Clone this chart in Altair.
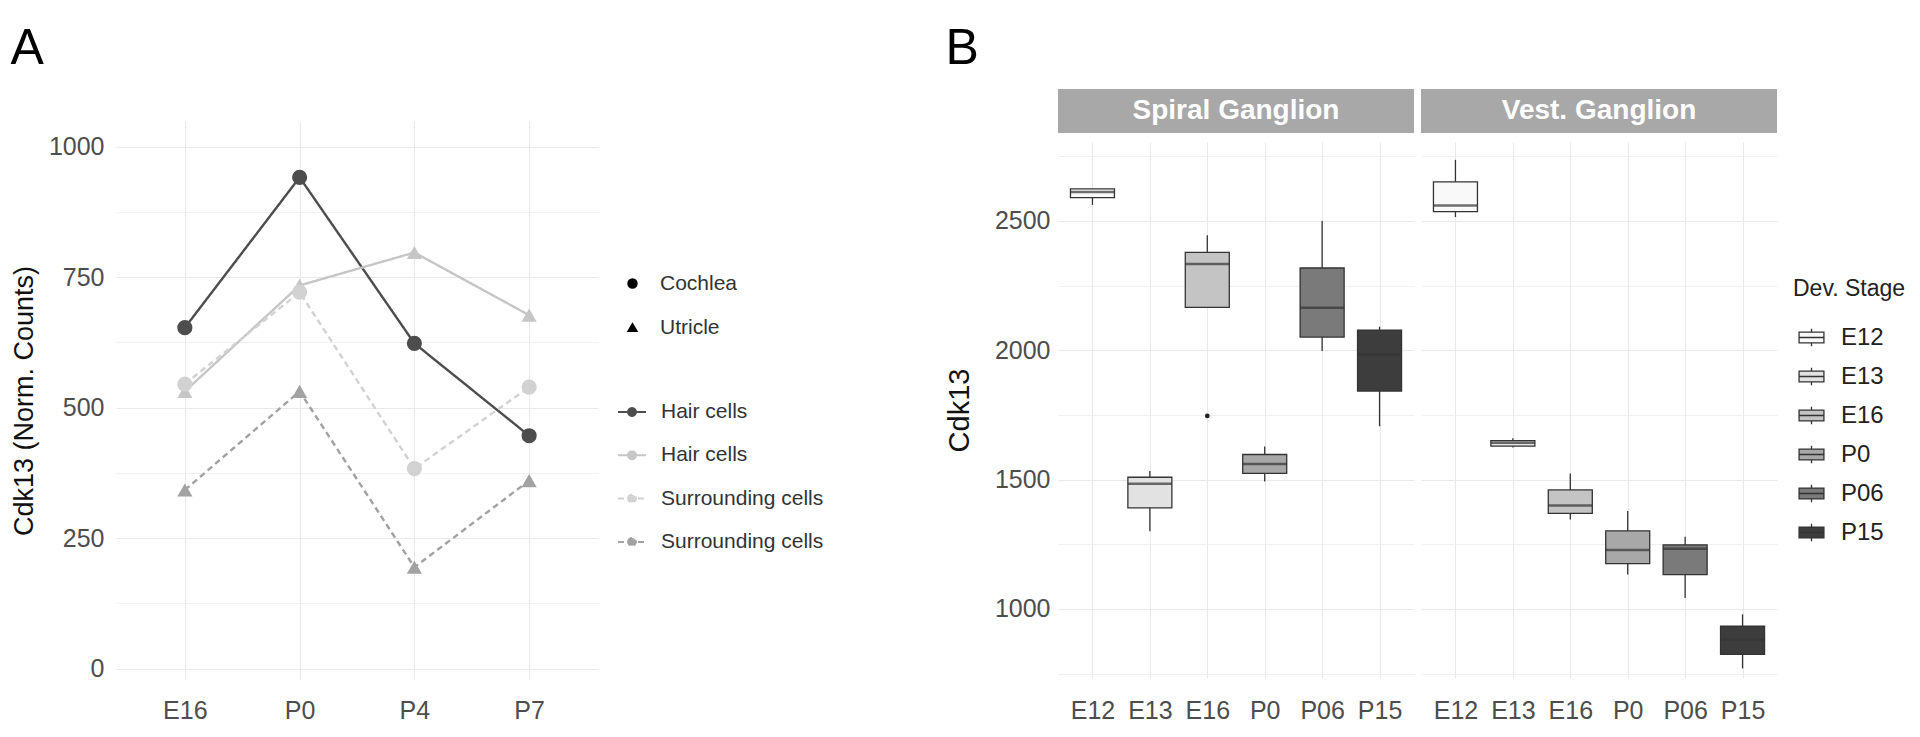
import altair as alt
import pandas as pd

# ---------------- Panel A data ----------------
stages_a = ["E16", "P0", "P4", "P7"]
series_a = ["Cochlea Hair cells", "Utricle Hair cells",
            "Cochlea Surrounding cells", "Utricle Surrounding cells"]
organ_of_series = ["Cochlea", "Utricle", "Cochlea", "Utricle"]
cochlea_hair = [653, 941, 623, 446]
utricle_hair = [531, 734, 797, 677]
cochlea_surr = [545, 721, 383, 539]
utricle_surr = [342, 531, 194, 360]
colors_a = ["#4d4d4d", "#c6c6c6", "#d2d2d2", "#a2a2a2"]
dashes_a = [[1, 0], [1, 0], [6, 4], [6, 4]]

rows = []
for s, org, vals in zip(series_a, organ_of_series,
                        [cochlea_hair, utricle_hair, cochlea_surr, utricle_surr]):
    for st, v in zip(stages_a, vals):
        rows.append({"series": s, "organ": org, "stage": st, "value": v})
df_a = pd.DataFrame(rows)

# ---------------- Panel B data ----------------
stages_b = ["E12", "E13", "E16", "P0", "P06", "P15"]
fills_b = ["#f9f9f9", "#e2e2e2", "#c4c4c4", "#a8a8a8", "#7a7a7a", "#3d3d3d"]
panels_b = ["Spiral Ganglion", "Vest. Ganglion"]
# whisker low, q1, median, q3, whisker high
sg_low = [2562, 1300, 2166, 1493, 1997, 1706]
sg_q1 = [2590, 1391, 2166, 1524, 2051, 1842]
sg_med = [2612, 1484, 2333, 1560, 2164, 1984]
sg_q3 = [2624, 1509, 2378, 1597, 2318, 2078]
sg_high = [2624, 1533, 2445, 1628, 2500, 2091]
vg_low = [2515, 1624, 1346, 1133, 1042, 770]
vg_q1 = [2536, 1629, 1369, 1175, 1133, 824]
vg_med = [2560, 1642, 1400, 1228, 1233, 882]
vg_q3 = [2651, 1651, 1460, 1302, 1248, 933]
vg_high = [2736, 1660, 1524, 1379, 1279, 979]
outlier_panel = ["Spiral Ganglion"]
outlier_stage = ["E16"]
outlier_value = [1746]

rows_b = []
for p, lo, q1, md, q3, hi in [
    (panels_b[0], sg_low, sg_q1, sg_med, sg_q3, sg_high),
    (panels_b[1], vg_low, vg_q1, vg_med, vg_q3, vg_high),
]:
    for i, st in enumerate(stages_b):
        rows_b.append({"panel": p, "stage": st, "low": lo[i], "q1": q1[i],
                       "med": md[i], "q3": q3[i], "high": hi[i]})
df_b = pd.DataFrame(rows_b)
df_out = pd.DataFrame({"panel": outlier_panel, "stage": outlier_stage,
                       "value": outlier_value})

FONT = "Liberation Sans"
GRID = "#e9e9e9"
TICK = "#4d4d4d"

# ---------------- Panel A chart ----------------
x_a = alt.X("stage:N", sort=stages_a,
            scale=alt.Scale(type="point", padding=0.6),
            axis=alt.Axis(title=None, labelFontSize=25, labelColor=TICK,
                          labelPadding=18, ticks=False, domain=False,
                          grid=True, gridColor=GRID, gridWidth=1.1,
                          labelAngle=0))
y_a = alt.Y("value:Q",
            scale=alt.Scale(domain=[-22, 1049], nice=False, zero=False),
            axis=alt.Axis(title="Cdk13 (Norm. Counts)", titleFontSize=27,
                          titleFontWeight="normal", titleColor="#111",
                          titlePadding=10,
                          values=[0, 125, 250, 375, 500, 625, 750, 875, 1000],
                          format="d",
                          labelExpr="datum.value % 250 == 0 ? datum.label : ''",
                          labelFontSize=25, labelColor=TICK, labelPadding=12,
                          ticks=False, domain=False, grid=True, gridColor=GRID,
                          gridWidth={"condition": {"test": "datum.value % 250 == 0",
                                                   "value": 1.1},
                                     "value": 0.7}))

line_symbol = ("M-1,0L1,0M-0.28,0A0.28,0.28,0,1,1,0.28,0"
               "A0.28,0.28,0,1,1,-0.28,0Z")
color_legend = alt.Legend(orient="none", legendX=501, legendY=276, title=None,
                          labelExpr="substring(datum.label, indexof(datum.label, ' ') + 1)",
                          labelFontSize=21, labelColor="#333", labelLimit=400,
                          symbolType=line_symbol, symbolSize=784,
                          symbolStrokeWidth=2, rowPadding=18.3, labelOffset=14,
                          padding=0)
color_a = alt.Color("series:N", sort=series_a,
                    scale=alt.Scale(domain=series_a, range=colors_a),
                    legend=color_legend)

lines = alt.Chart(df_a).mark_line(strokeWidth=2.4).encode(
    x=x_a, y=y_a, color=color_a,
    strokeDash=alt.StrokeDash("series:N",
                              scale=alt.Scale(domain=series_a, range=dashes_a),
                              legend=None),
    detail="series:N",
)
points = alt.Chart(df_a).mark_point(filled=True, size=230, opacity=1).encode(
    x=x_a, y=y_a, color=color_a,
    shape=alt.Shape("organ:N",
                    scale=alt.Scale(domain=["Cochlea", "Utricle"],
                                    range=["circle", "triangle-up"]),
                    legend=alt.Legend(orient="none", legendX=506, legendY=152,
                                      title=None, labelFontSize=21,
                                      labelColor="#333", labelLimit=400,
                                      symbolSize=80,
                                      symbolFillColor="black",
                                      symbolStrokeColor="black",
                                      rowPadding=22, labelOffset=17,
                                      padding=0)),
)
plot_a = alt.layer(lines, points).properties(width=482, height=559)

# empty spacer that lowers panel A's plot below the top of panel B's strips
spacer = alt.Chart(pd.DataFrame({"t": [""]})).mark_text(opacity=0).encode(
    text="t:N").properties(width=482, height=32)

panel_a = alt.vconcat(
    spacer, plot_a, spacing=0, bounds="flush",
    title=alt.Title("A", anchor="start", frame="bounds", fontSize=50,
                    fontWeight="normal", color="black", offset=15),
).resolve_scale(color="independent", shape="independent",
                strokeDash="independent")

# ---------------- Panel B chart ----------------
box_symbol = ("M-0.71,-0.31H0.71V0.31H-0.71Z M-0.71,0H0.71 "
              "M0,-0.31V-0.5 M0,0.31V0.5")


def strip(label):
    return alt.Chart(
        pd.DataFrame({"panel": [label]}),
        view=alt.ViewBackground(fill="#a8a8a8", stroke=None),
    ).mark_text(color="white", fontWeight="bold", fontSize=28,
                baseline="middle", font=FONT).encode(
        text="panel:N"
    ).properties(width=356, height=44)


def box(panel, first):
    d = df_b[df_b["panel"] == panel]
    xb = alt.X("stage:N", sort=stages_b,
               scale=alt.Scale(type="point", padding=0.6),
               axis=alt.Axis(title=None, labelFontSize=25, labelColor=TICK,
                             labelPadding=20, ticks=False, domain=False,
                             grid=True, gridColor=GRID, gridWidth=1.1,
                             labelAngle=0))
    ysc = alt.Scale(domain=[733, 2805], nice=False, zero=False)
    vals = [750, 1000, 1250, 1500, 1750, 2000, 2250, 2500, 2750]
    gw = {"condition": {"test": "datum.value % 500 == 0", "value": 1.1},
          "value": 0.7}
    if first:
        yax = alt.Axis(title="Cdk13", titleFontSize=29, titleFontWeight="normal",
                       titleColor="#111", titlePadding=20, values=vals,
                       format="d",
                       labelExpr="datum.value % 500 == 0 ? datum.label : ''",
                       labelFontSize=25, labelColor=TICK, labelPadding=8,
                       ticks=False, domain=False, grid=True, gridColor=GRID,
                       gridWidth=gw)
    else:
        yax = alt.Axis(title=None, values=vals, labels=False, ticks=False,
                       domain=False, grid=True, gridColor=GRID, gridWidth=gw)
    if first:
        leg = None
    else:
        leg = alt.Legend(orient="none", legendX=372, legendY=136,
                         title="Dev. Stage", titleFontSize=23,
                         titleFontWeight="normal", titleColor="#222",
                         labelFontSize=24, labelColor="#222",
                         symbolType=box_symbol, symbolSize=1225,
                         symbolStrokeColor="#333", symbolStrokeWidth=1.3,
                         rowPadding=8, labelOffset=11, titlePadding=18,
                         padding=0)
    fill = alt.Fill("stage:N", sort=stages_b,
                    scale=alt.Scale(domain=stages_b, range=fills_b),
                    legend=leg)
    whisk = alt.Chart(d).mark_rule(color="#333", strokeWidth=1.3).encode(
        x=xb, y=alt.Y("low:Q", scale=ysc, axis=yax), y2="high:Q")
    bars = alt.Chart(d).mark_bar(size=44, stroke="#333",
                                 strokeWidth=1.3).encode(
        x=xb, y=alt.Y("q1:Q", scale=ysc, axis=yax), y2="q3:Q", fill=fill)
    med = alt.Chart(d).mark_tick(size=44, thickness=2.5, color="#333",
                                 orient="horizontal").encode(
        x=xb, y=alt.Y("med:Q", scale=ysc, axis=yax))
    layers = [whisk, bars, med]
    o = df_out[df_out["panel"] == panel]
    if len(o):
        layers.append(alt.Chart(o).mark_circle(size=22, color="#222",
                                               opacity=1).encode(
            x=xb, y=alt.Y("value:Q", scale=ysc, axis=yax)))
    return alt.layer(*layers).properties(width=356, height=536)


col1 = alt.vconcat(strip(panels_b[0]), box(panels_b[0], True),
                   spacing=9, bounds="flush").resolve_scale(fill="independent")
col2 = alt.vconcat(strip(panels_b[1]), box(panels_b[1], False),
                   spacing=9, bounds="flush").resolve_scale(fill="independent")
panel_b = alt.hconcat(
    col1, col2, spacing=7,
    title=alt.Title("B", anchor="start", frame="bounds", fontSize=50,
                    fontWeight="normal", color="black", offset=15),
).resolve_scale(fill="independent")

chart = alt.hconcat(panel_a, panel_b, spacing=121).resolve_scale(
    color="independent", fill="independent", shape="independent",
    strokeDash="independent",
).properties(
    padding={"left": 2, "top": 16, "right": 5, "bottom": 5},
).configure(font=FONT).configure_view(stroke=None)

chart.save("out.html", embed_options={"renderer": "svg", "actions": False})
